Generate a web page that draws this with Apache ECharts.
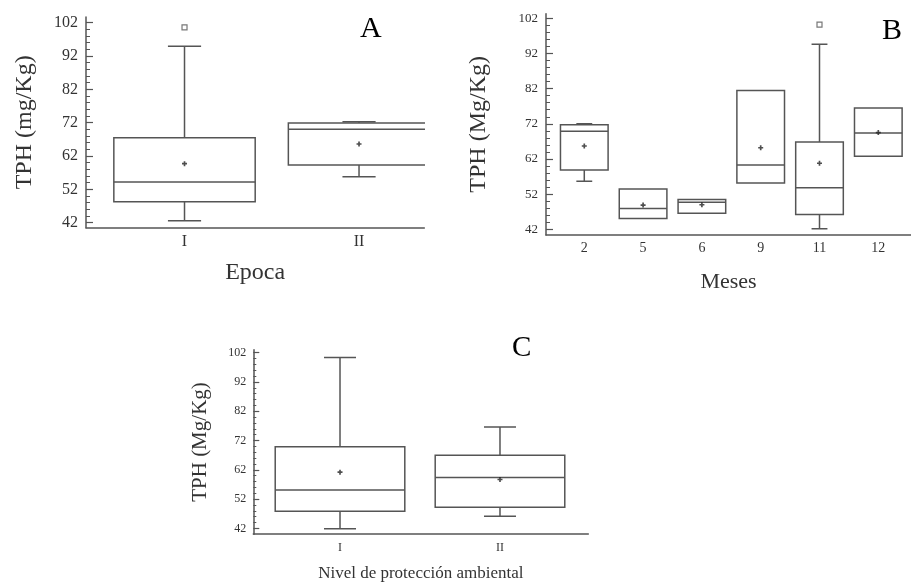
<!DOCTYPE html>
<html>
<head>
<meta charset="utf-8">
<script src="https://cdn.jsdelivr.net/npm/echarts@6/dist/echarts.min.js"></script>
<style>
  html, body { margin: 0; padding: 0; background: #fff; }
  #chart { width: 911px; height: 585px; }
</style>
</head>
<body>
<div id="chart"></div>
<script>
// ---------- DATA ----------
// Panel A: Epoca
const epocaCats = ['I', 'II'];
// [min, Q1, median, Q3, max]
const epocaBoxes = [
  [42.6, 48.3, 54.2, 67.5, 94.9],
  [55.8, 59.3, 70.0, 71.9, 72.3]
];
const epocaMeans = [59.7, 65.6];
const epocaOutliers = [[0, 100.6]]; // [category index, value]

// Panel B: Meses
const mesesCats = ['2', '5', '6', '9', '11', '12'];
const mesesBoxes = [
  [55.7, 58.9, 69.9, 71.75, 72.0],
  [45.1, 45.1, 47.9, 53.5, 53.5],
  [46.6, 46.6, 49.7, 50.5, 50.5],
  [55.2, 55.2, 60.3, 81.5, 81.5],
  [42.2, 46.2, 53.8, 66.8, 94.6],
  [62.8, 62.8, 69.4, 76.5, 76.5]
];
const mesesMeans = [65.7, 48.9, 49.0, 65.2, 60.8, 69.5];
const mesesOutliers = [[4, 100.2]];

// Panel C: Nivel de protección ambiental
const nivelCats = ['I', 'II'];
const nivelBoxes = [
  [41.9, 47.8, 55.1, 69.9, 100.4],
  [46.1, 49.2, 59.4, 67.0, 76.6]
];
const nivelMeans = [61.2, 58.7];
const nivelOutliers = [];

// Tick labels
const yMajorTicks = [42, 52, 62, 72, 82, 92, 102];
const yMinorTicks = [44, 46, 48, 50, 54, 56, 58, 60, 64, 66, 68, 70, 74, 76, 78, 80, 84, 86, 88, 90, 94, 96, 98, 100];

// ---------- CHART ----------
const SERIF = "'Liberation Serif', 'DejaVu Serif', serif";
const LINE = '#555';
const TEXT = '#333';

const chart = echarts.init(document.getElementById('chart'), null, { renderer: 'canvas' });

function boxRenderer(boxFrac, capFrac, lw) {
  return function (params, api) {
    const x = api.value(0);
    const v = [1, 2, 3, 4, 5].map(function (i) { return api.value(i); });
    const unit = api.size([1, 0])[0];
    const half = unit * boxFrac / 2;
    const capHalf = unit * capFrac / 2;
    const pMin = api.coord([x, v[0]]);
    const pQ1 = api.coord([x, v[1]]);
    const pMed = api.coord([x, v[2]]);
    const pQ3 = api.coord([x, v[3]]);
    const pMax = api.coord([x, v[4]]);
    const cx = pMed[0];
    const st = { stroke: LINE, lineWidth: lw, fill: null };
    const children = [
      { type: 'rect', shape: { x: cx - half, y: pQ3[1], width: 2 * half, height: pQ1[1] - pQ3[1] }, style: st },
      { type: 'line', shape: { x1: cx - half, y1: pMed[1], x2: cx + half, y2: pMed[1] }, style: st }
    ];
    if (v[4] > v[3]) {
      children.push({ type: 'line', shape: { x1: cx, y1: pQ3[1], x2: cx, y2: pMax[1] }, style: st });
      children.push({ type: 'line', shape: { x1: cx - capHalf, y1: pMax[1], x2: cx + capHalf, y2: pMax[1] }, style: st });
    }
    if (v[0] < v[1]) {
      children.push({ type: 'line', shape: { x1: cx, y1: pQ1[1], x2: cx, y2: pMin[1] }, style: st });
      children.push({ type: 'line', shape: { x1: cx - capHalf, y1: pMin[1], x2: cx + capHalf, y2: pMin[1] }, style: st });
    }
    return { type: 'group', children: children };
  };
}

const PLUS = 'path://M1,0H2V1H3V2H2V3H1V2H0V1H1Z';

const grids = [], xAxes = [], yAxes = [], series = [];

function addPanel(p) {
  const gi = grids.length;
  grids.push(p.grid);
  xAxes.push({
    type: 'value', gridIndex: gi, min: p.xMin, max: p.xMax,
    axisLine: { show: true, onZero: false, lineStyle: { color: LINE, width: 1.5 } },
    axisTick: { show: false },
    splitLine: { show: false },
    axisLabel: {
      customValues: p.cats.map(function (c, i) { return i + 1; }),
      formatter: function (v) { return p.cats[Math.round(v) - 1] || ''; },
      fontFamily: SERIF, fontSize: p.xLabelSize, color: TEXT, margin: p.xLabelMargin
    },
    name: p.xName, nameLocation: 'middle', nameGap: p.xNameGap,
    nameTextStyle: { fontFamily: SERIF, fontSize: p.xNameSize, color: TEXT }
  });
  const yi = yAxes.length;
  yAxes.push({
    type: 'value', gridIndex: gi, min: p.yMin, max: p.yMax, position: 'left',
    axisLine: { show: true, onZero: false, lineStyle: { color: LINE, width: 1.5 } },
    axisTick: { show: true, inside: true, length: p.majorLen, customValues: yMajorTicks, lineStyle: { color: LINE, width: 1.2 } },
    splitLine: { show: false },
    axisLabel: { customValues: yMajorTicks, fontFamily: SERIF, fontSize: p.yLabelSize, color: TEXT, margin: p.yLabelMargin },
    name: p.yName, nameLocation: 'middle', nameGap: p.yNameGap,
    nameTextStyle: { fontFamily: SERIF, fontSize: p.yNameSize, color: TEXT }
  });
  yAxes.push({
    type: 'value', gridIndex: gi, min: p.yMin, max: p.yMax, position: 'left',
    axisLine: { show: false },
    axisTick: { show: true, inside: true, length: p.minorLen, customValues: yMinorTicks, lineStyle: { color: LINE, width: 1 } },
    splitLine: { show: false },
    axisLabel: { show: false }
  });
  const xi = xAxes.length - 1;
  series.push({
    type: 'custom', xAxisIndex: xi, yAxisIndex: yi, clip: true,
    renderItem: boxRenderer(0.81, p.capFrac, 1.5),
    encode: { x: 0, y: [1, 2, 3, 4, 5] },
    data: p.boxes.map(function (b, i) { return [i + 1].concat(b); }),
    silent: true
  });
  series.push({
    type: 'scatter', xAxisIndex: xi, yAxisIndex: yi,
    symbol: PLUS, symbolSize: 5,
    itemStyle: { color: '#222' },
    data: p.means.map(function (m, i) { return [i + 1, m]; }),
    silent: true
  });
  if (p.outliers.length) {
    series.push({
      type: 'scatter', xAxisIndex: xi, yAxisIndex: yi,
      symbol: 'rect', symbolSize: 5,
      itemStyle: { color: '#fff', borderColor: LINE, borderWidth: 1.2 },
      data: p.outliers.map(function (o) { return [o[0] + 1, o[1]]; }),
      silent: true
    });
  }
}

addPanel({
  grid: { left: 86, top: 17, width: 338.3, height: 210.7 },
  cats: epocaCats, boxes: epocaBoxes, means: epocaMeans, outliers: epocaOutliers,
  xMin: 0.4355, xMax: 2.374, yMin: 40.5, yMax: 103.7, capFrac: 0.19,
  xLabelSize: 16, xLabelMargin: 6, xName: 'Epoca', xNameGap: 33, xNameSize: 24,
  yLabelSize: 16, yLabelMargin: 8, yName: 'TPH (mg/Kg)', yNameGap: 49, yNameSize: 24,
  majorLen: 7, minorLen: 4
});

addPanel({
  grid: { left: 546, top: 13.7, width: 365, height: 221.3 },
  cats: mesesCats, boxes: mesesBoxes, means: mesesMeans, outliers: mesesOutliers,
  xMin: 0.349, xMax: 6.556, yMin: 40.4, yMax: 103.3, capFrac: 0.27,
  xLabelSize: 14, xLabelMargin: 6, xName: 'Meses', xNameGap: 36, xNameSize: 22,
  yLabelSize: 13, yLabelMargin: 8, yName: 'TPH (Mg/Kg)', yNameGap: 55, yNameSize: 24,
  majorLen: 7, minorLen: 4
});

addPanel({
  grid: { left: 253.3, top: 349.8, width: 335, height: 184.4 },
  cats: nivelCats, boxes: nivelBoxes, means: nivelMeans, outliers: nivelOutliers,
  xMin: 0.458, xMax: 2.552, yMin: 40, yMax: 103, capFrac: 0.2,
  xLabelSize: 12, xLabelMargin: 8, xName: 'Nivel de protección ambiental', xNameGap: 31, xNameSize: 17,
  yLabelSize: 12, yLabelMargin: 7, yName: 'TPH (Mg/Kg)', yNameGap: 42, yNameSize: 21,
  majorLen: 6, minorLen: 3
});

chart.setOption({
  backgroundColor: '#fff',
  animation: false,
  title: [
    { text: 'A', left: 360, top: 14, padding: 0, textStyle: { fontFamily: SERIF, fontSize: 30, fontWeight: 'normal', color: '#000' } },
    { text: 'B', left: 882, top: 16, padding: 0, textStyle: { fontFamily: SERIF, fontSize: 30, fontWeight: 'normal', color: '#000' } },
    { text: 'C', left: 512, top: 334, padding: 0, textStyle: { fontFamily: SERIF, fontSize: 29, fontWeight: 'normal', color: '#000' } }
  ],
  grid: grids,
  xAxis: xAxes,
  yAxis: yAxes,
  series: series
});
</script>
</body>
</html>
